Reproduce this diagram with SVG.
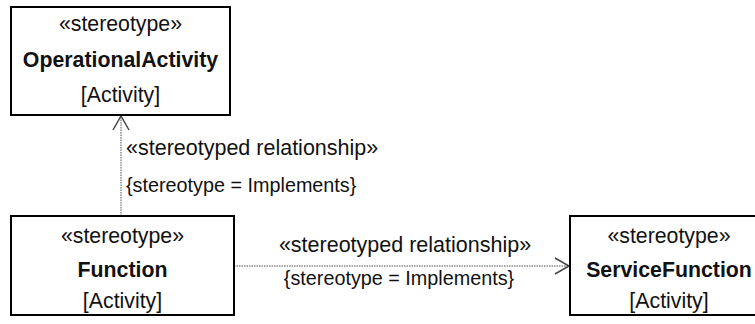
<svg xmlns="http://www.w3.org/2000/svg" width="755" height="324" viewBox="0 0 755 324">
<style>
.box{fill:#fff;stroke:#000;stroke-width:2}
.t{font-family:"Liberation Sans",Arial,sans-serif;font-size:21.3px;fill:#111;text-anchor:middle}
.b{font-weight:bold}
.lbl{font-family:"Liberation Sans",Arial,sans-serif;fill:#111}
.conn{fill:none;stroke:#8a8a8a;stroke-width:1.5;stroke-dasharray:1.5 1}
.head{fill:none;stroke:#444;stroke-width:1.5}
</style>
<rect width="755" height="324" fill="#fff"/>
<g id="connectors">
<line class="conn" x1="121" y1="216" x2="121" y2="116"/>
<polyline class="head" points="113,130 121,116 129,130"/>
<line class="conn" x1="234" y1="266" x2="569" y2="266"/>
<polyline class="head" points="555,258 569,266 555,274"/>
<text class="lbl" x="126" y="155" font-size="21.5">«stereotyped relationship»</text>
<text class="lbl" x="126" y="192" font-size="19.8">{stereotype = Implements}</text>
<text class="lbl" x="405" y="252" font-size="21.5" text-anchor="middle">«stereotyped relationship»</text>
<text class="lbl" x="399" y="285" font-size="19.8" text-anchor="middle">{stereotype = Implements}</text>
</g>
<g id="OperationalActivity">
<rect class="box" x="11" y="7" width="219" height="108"/>
<text class="t" x="120.5" y="31">«stereotype»</text>
<text class="t b" x="120.5" y="67">OperationalActivity</text>
<text class="t" x="120.5" y="102">[Activity]</text>
</g>
<g id="Function">
<rect class="box" x="11" y="216" width="223" height="99"/>
<text class="t" x="122.5" y="243">«stereotype»</text>
<text class="t b" x="122.5" y="277">Function</text>
<text class="t" x="122.5" y="308">[Activity]</text>
</g>
<g id="ServiceFunction">
<rect class="box" x="570" y="216" width="200" height="99"/>
<text class="t" x="669" y="243">«stereotype»</text>
<text class="t b" x="669" y="277">ServiceFunction</text>
<text class="t" x="669" y="308">[Activity]</text>
</g>
</svg>
